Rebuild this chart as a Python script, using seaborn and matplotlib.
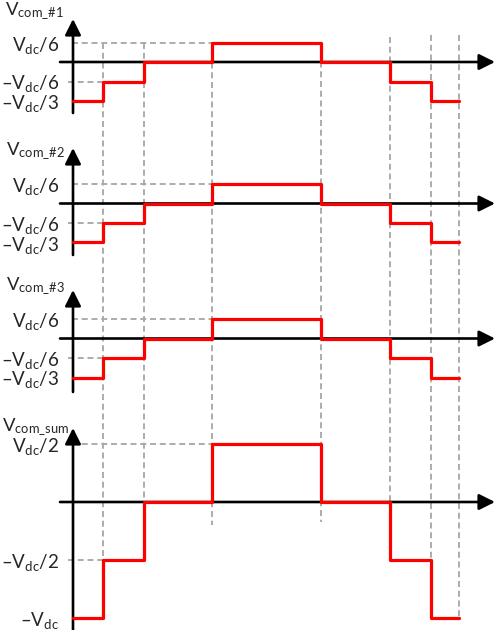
import numpy as np
import pandas as pd
import matplotlib
matplotlib.use("Agg")
import matplotlib.pyplot as plt
import seaborn as sns

sns.set_style("white")
plt.rcParams["font.family"] = ["Lato", "DejaVu Sans"]
plt.rcParams["mathtext.fontset"] = "custom"
plt.rcParams["mathtext.rm"] = "Lato"
plt.rcParams["mathtext.it"] = "Lato:italic"
plt.rcParams["mathtext.bf"] = "Lato:bold"

# ---------------- data ----------------
switch_times = [0, 30, 71, 139, 248, 317, 358, 386]
levels_1 = [-1/3, -1/6, 0, 1/6, 0, -1/6, -1/3]
levels_2 = [-1/3, -1/6, 0, 1/6, 0, -1/6, -1/3]
levels_3 = [-1/3, -1/6, 0, 1/6, 0, -1/6, -1/3]
levels_sum = [-1, -1/2, 0, 1/2, 0, -1/2, -1]

panel_titles = [r"$\mathrm{V_{com\_\#1}}$", r"$\mathrm{V_{com\_\#2}}$",
                r"$\mathrm{V_{com\_\#3}}$", r"$\mathrm{V_{com\_sum}}$"]
tick_values_phase = [1/6, -1/6, -1/3]
tick_labels_phase = [r"$\mathrm{V_{dc}}$/6", r"–$\mathrm{V_{dc}}$/6", r"–$\mathrm{V_{dc}}$/3"]
tick_values_sum = [1/2, -1/2, -1]
tick_labels_sum = [r"$\mathrm{V_{dc}}$/2", r"–$\mathrm{V_{dc}}$/2", r"–$\mathrm{V_{dc}}$"]

# ---------------- layout (pixels) ----------------
W, H = 498, 630
AX_X = 73
XMAX = W - AX_X
panels = [
    dict(levels=levels_1, tv=tick_values_phase, tl=tick_labels_phase, title=panel_titles[0],
         tip=19, bottom=113, zero=62, scale=117, tx=5, ty=15),
    dict(levels=levels_2, tv=tick_values_phase, tl=tick_labels_phase, title=panel_titles[1],
         tip=148, bottom=255, zero=203.5, scale=117, tx=6, ty=155),
    dict(levels=levels_3, tv=tick_values_phase, tl=tick_labels_phase, title=panel_titles[2],
         tip=290, bottom=392, zero=338.5, scale=117, tx=6, ty=290),
    dict(levels=levels_sum, tv=tick_values_sum, tl=tick_labels_sum, title=panel_titles[3],
         tip=428, bottom=630, zero=502, scale=116, tx=2, ty=431),
]
vline_tops = [43, 43, 43, 42, 37, 35, 35]
vline_bottoms = [562, 502, 525, 522, 502, 560, 617]

RED = "#ff0000"
GREY = "#a9a9a9"
DASH = (0, (3.2, 2.0))
GLW = 1.35

fig = plt.figure(figsize=(W / 100, H / 100), dpi=100)

# overlay for vertical guide lines
ov = fig.add_axes([AX_X / W, 0, XMAX / W, 1])
ov.set_xlim(0, XMAX)
ov.set_ylim(H, 0)
ov.axis("off")
ov.set_zorder(0)
for t, top, bot in zip(switch_times[1:], vline_tops, vline_bottoms):
    ov.plot([t, t], [top, bot], color=GREY, lw=GLW, linestyle=DASH, clip_on=False)

for k, p in enumerate(panels):
    ax = fig.add_axes([AX_X / W, 1 - p["bottom"] / H, XMAX / W, (p["bottom"] - p["tip"]) / H])
    ax.set_zorder(1 + k)
    ax.patch.set_alpha(0)
    ymin = (p["zero"] - p["bottom"]) / p["scale"]
    ymax = (p["zero"] - p["tip"]) / p["scale"]
    ax.set_xlim(0, XMAX)
    ax.set_ylim(ymin, ymax)
    for s in ax.spines.values():
        s.set_visible(False)

    lv = p["levels"]
    df = pd.DataFrame({"t": switch_times, "v": list(lv) + [lv[-1]]})

    # horizontal guide lines
    pos = p["tv"][0]
    neg = p["tv"][1]
    ax.plot([-1, switch_times[3]], [pos, pos], color=GREY, lw=GLW, linestyle=DASH, clip_on=False, zorder=1)
    ax.plot([-5, switch_times[1]], [neg, neg], color=GREY, lw=GLW, linestyle=DASH, clip_on=False, zorder=1)

    # axes arrows
    ax.annotate("", xy=(422, 0), xytext=(-13, 0),
                arrowprops=dict(arrowstyle="-|>,head_length=0.8,head_width=0.4", color="black",
                                lw=1.9, shrinkA=0, shrinkB=0, mutation_scale=12),
                annotation_clip=False, zorder=2)
    ax.annotate("", xy=(0, ymax), xytext=(0, ymin),
                arrowprops=dict(arrowstyle="-|>,head_length=0.8,head_width=0.4", color="black",
                                lw=1.9, shrinkA=0, shrinkB=0, mutation_scale=12),
                annotation_clip=False, zorder=2)

    sns.lineplot(data=df, x="t", y="v", drawstyle="steps-post", color=RED, lw=2.3,
                 ax=ax, legend=False, clip_on=False, zorder=3, estimator=None)
    ax.set_xlabel("")
    ax.set_ylabel("")
    ax.set_xticks([])
    ax.set_yticks(p["tv"])
    ax.set_yticklabels(p["tl"], fontsize=13.5)
    ax.tick_params(axis="y", length=0, pad=10)

    fig.text(p["tx"] / W, 1 - p["ty"] / H, p["title"], fontsize=13.3, ha="left", va="baseline")

fig.savefig("out.png", dpi=100)
